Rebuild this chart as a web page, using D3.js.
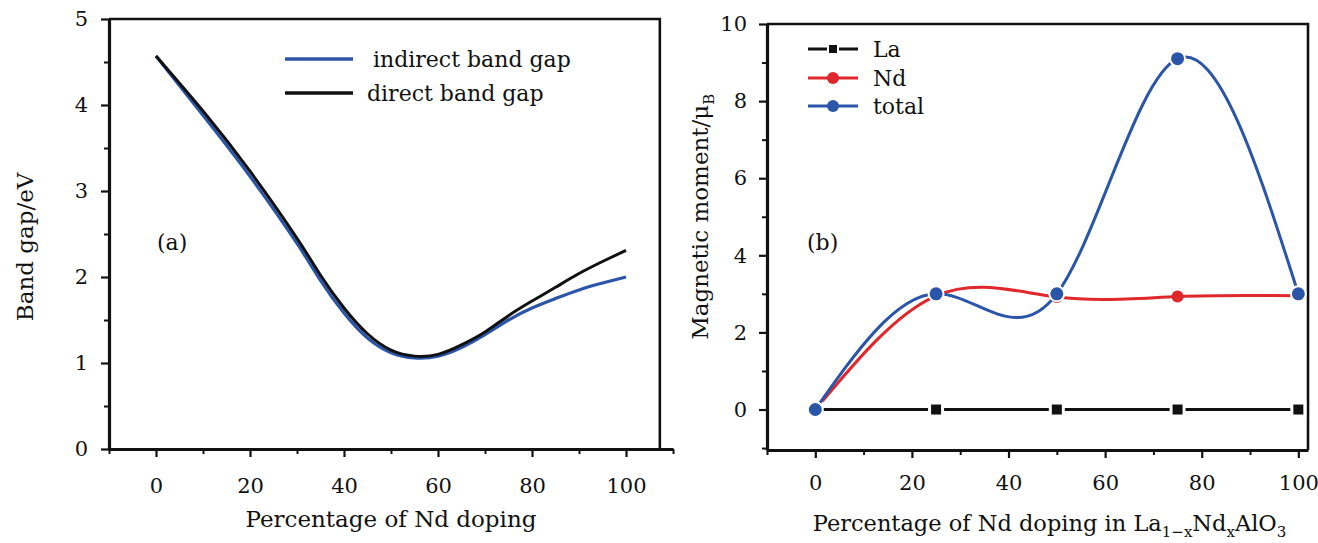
<!DOCTYPE html>
<html>
<head>
<meta charset="utf-8">
<script src="https://cdn.jsdelivr.net/npm/d3@7"></script>
<style>
  body{margin:0;background:#fff;}
  svg{display:block;}
  text{font-family:"DejaVu Serif",serif;fill:#111;}
  .axis path,.axis line{stroke:#111;}
</style>
</head>
<body>
<svg id="plot"></svg>
<script>
//Band gap data (panel a)
const gapDoping = [0,10,20,30,35,40,45,50,55,60,65,70,75,80,85,90,95,100];
const indirectGap = [4.57,3.88,3.17,2.39,1.96,1.58,1.29,1.12,1.06,1.08,1.18,1.33,1.50,1.64,1.75,1.85,1.93,2.00];
const directGap = [4.57,3.93,3.23,2.45,2.02,1.64,1.34,1.15,1.08,1.10,1.21,1.36,1.55,1.72,1.88,2.04,2.18,2.31];

//Magnetic moment data (panel b)
const momentDoping = [0,25,50,75,100];
const momentLa = [0,0,0,0,0];
const momentNd = [0,2.95,2.92,2.93,2.95];
const momentTotal = [0,3.0,3.0,9.1,3.0];

//Tick values
const gapTicksX = [0,20,40,60,80,100];
const gapMinorX = [-10,10,30,50,70,90,110];
const gapTicksY = [0,1,2,3,4,5];
const gapMinorY = [0.5,1.5,2.5,3.5,4.5];
const momentTicksX = [0,20,40,60,80,100];
const momentMinorX = [-10,10,30,50,70,90];
const momentTicksY = [0,2,4,6,8,10];
const momentMinorY = [-1,1,3,5,7,9];

const blue = "#2b55a8";
const red = "#e0272c";
const tickSize = 21;
const titleSize = 23;
const legendSize = 22;

const svg = d3.select("#plot").attr("width",1318).attr("height",543);

//Helper to draw one set of axes with major and minor ticks
function drawAxes(x,y,ticksX,minorX,ticksY,minorY,padX,padY){
    const bottom = y.range()[0];
    const left = x.range()[0];
    //minor ticks first
    svg.append("g").attr("class","axis").attr("transform","translate(0,"+bottom+")")
        .call(d3.axisBottom(x).tickValues(minorX).tickSize(5).tickSizeOuter(0).tickFormat(""))
        .call(g=>g.select(".domain").remove())
        .selectAll("line").attr("stroke-width",2);
    svg.append("g").attr("class","axis").attr("transform","translate("+left+",0)")
        .call(d3.axisLeft(y).tickValues(minorY).tickSize(5).tickSizeOuter(0).tickFormat(""))
        .call(g=>g.select(".domain").remove())
        .selectAll("line").attr("stroke-width",2);
    //major ticks with labels
    const ax = svg.append("g").attr("class","axis").attr("transform","translate(0,"+bottom+")")
        .call(d3.axisBottom(x).tickValues(ticksX).tickSize(8).tickSizeOuter(0).tickPadding(padX).tickFormat(d3.format("d")));
    ax.select(".domain").attr("stroke-width",3.2);
    ax.selectAll("line").attr("stroke-width",2.2);
    ax.selectAll("text").style("font-size",tickSize+"px");
    const ay = svg.append("g").attr("class","axis").attr("transform","translate("+left+",0)")
        .call(d3.axisLeft(y).tickValues(ticksY).tickSize(8).tickSizeOuter(0).tickPadding(padY).tickFormat(d3.format("d")));
    ay.select(".domain").attr("stroke-width",3.2);
    ay.selectAll("line").attr("stroke-width",2.2);
    ay.selectAll("text").style("font-size",tickSize+"px");
}

//Panel (a): band gap
const xA = d3.scaleLinear().domain([-10,110]).range([109,673]);
const yA = d3.scaleLinear().domain([0,5]).range([449,19]);

//frame: top and right border
svg.append("path")
    .attr("d","M"+xA(-10)+","+yA(5)+"H"+xA(107.2)+"V"+yA(0))
    .attr("fill","none").attr("stroke","#111").attr("stroke-width",2.6);

drawAxes(xA,yA,gapTicksX,gapMinorX,gapTicksY,gapMinorY,21,13);

const lineA = d3.line().curve(d3.curveNatural)
    .x((d,i)=>xA(gapDoping[i]))
    .y(d=>yA(d));

svg.append("path").attr("d",lineA(indirectGap))
    .attr("fill","none").attr("stroke",blue).attr("stroke-width",3.2);
svg.append("path").attr("d",lineA(directGap))
    .attr("fill","none").attr("stroke","#111").attr("stroke-width",3);

//legend (a)
const legA = [{name:"indirect band gap",color:blue,y:59,tx:373},{name:"direct band gap",color:"#111",y:93,tx:367}];
legA.forEach(d=>{
    svg.append("line").attr("x1",285).attr("x2",353).attr("y1",d.y).attr("y2",d.y)
        .attr("stroke",d.color).attr("stroke-width",3.5);
    svg.append("text").attr("x",d.tx).attr("y",d.y+8).style("font-size",legendSize+"px").text(d.name);
});

svg.append("text").attr("x",157).attr("y",250).style("font-size",legendSize+"px").text("(a)");

//axis titles (a)
svg.append("text").attr("x",xA(50)).attr("y",527).attr("text-anchor","middle")
    .style("font-size",titleSize+"px").text("Percentage of Nd doping");
svg.append("text").attr("transform","translate(33,"+yA(2.35)+") rotate(-90)")
    .attr("text-anchor","middle").style("font-size",titleSize+"px").text("Band gap/eV");

//Panel (b): magnetic moment
const xB = d3.scaleLinear().domain([-10,102]).range([767,1308]);
const yB = d3.scaleLinear().domain([-1.05,10]).range([450,24]);

svg.append("path")
    .attr("d","M"+xB(-10)+","+yB(10)+"H"+xB(102)+"V"+yB(-1.05))
    .attr("fill","none").attr("stroke","#111").attr("stroke-width",2.6);

drawAxes(xB,yB,momentTicksX,momentMinorX,momentTicksY,momentMinorY,17,12);

const lineB = d3.line().curve(d3.curveNatural)
    .x((d,i)=>xB(momentDoping[i]))
    .y(d=>yB(d));

//Nd line and markers
svg.append("path").attr("d",lineB(momentNd))
    .attr("fill","none").attr("stroke",red).attr("stroke-width",3);
svg.selectAll(".ndDot").data(momentNd).enter().append("circle")
    .attr("cx",(d,i)=>xB(momentDoping[i])).attr("cy",d=>yB(d))
    .attr("r",6).attr("fill",red);

//La line and square markers
svg.append("path").attr("d",lineB(momentLa))
    .attr("fill","none").attr("stroke","#111").attr("stroke-width",3);
svg.selectAll(".laDot").data(momentLa).enter().append("rect")
    .attr("x",(d,i)=>xB(momentDoping[i])-6.5).attr("y",d=>yB(d)-6.5)
    .attr("width",13).attr("height",13).attr("fill","#111")
    .attr("stroke","#fff").attr("stroke-width",3);

//total line and markers
svg.append("path").attr("d",lineB(momentTotal))
    .attr("fill","none").attr("stroke",blue).attr("stroke-width",3);
svg.selectAll(".totDot").data(momentTotal).enter().append("circle")
    .attr("cx",(d,i)=>xB(momentDoping[i])).attr("cy",d=>yB(d))
    .attr("r",7.5).attr("fill",blue)
    .attr("stroke","#fff").attr("stroke-width",2);

//legend (b)
const legB = [{name:"La",color:"#111",y:49,mark:"square"},{name:"Nd",color:red,y:78,mark:"circle"},{name:"total",color:blue,y:106,mark:"circle"}];
legB.forEach(d=>{
    svg.append("line").attr("x1",808).attr("x2",858).attr("y1",d.y).attr("y2",d.y)
        .attr("stroke",d.color).attr("stroke-width",3.2);
    if(d.mark==="square"){
        svg.append("rect").attr("x",828).attr("y",d.y-5).attr("width",10).attr("height",10)
            .attr("fill",d.color).attr("stroke","#fff").attr("stroke-width",2);
    } else {
        svg.append("circle").attr("cx",833).attr("cy",d.y).attr("r",6).attr("fill",d.color);
    }
    svg.append("text").attr("x",873).attr("y",d.y+8).style("font-size",legendSize+"px").text(d.name);
});

svg.append("text").attr("x",807).attr("y",250).style("font-size",legendSize+"px").text("(b)");

//axis titles (b)
const xt = svg.append("text").attr("x",xB(48.5)).attr("y",531).attr("text-anchor","middle")
    .style("font-size","22.5px");
xt.append("tspan").text("Percentage of Nd doping in La");
xt.append("tspan").attr("dy",6).style("font-size","15px").text("1\u2212x");
xt.append("tspan").attr("dy",-6).text("Nd");
xt.append("tspan").attr("dy",6).style("font-size","15px").text("x");
xt.append("tspan").attr("dy",-6).text("AlO");
xt.append("tspan").attr("dy",6).style("font-size","15px").text("3");

const yt = svg.append("text").attr("transform","translate(708,"+yB(5)+") rotate(-90)")
    .attr("text-anchor","middle").style("font-size",titleSize+"px");
yt.append("tspan").text("Magnetic moment/\u03bc");
yt.append("tspan").attr("dy",6).style("font-size","15px").text("B");
</script>
</body>
</html>
